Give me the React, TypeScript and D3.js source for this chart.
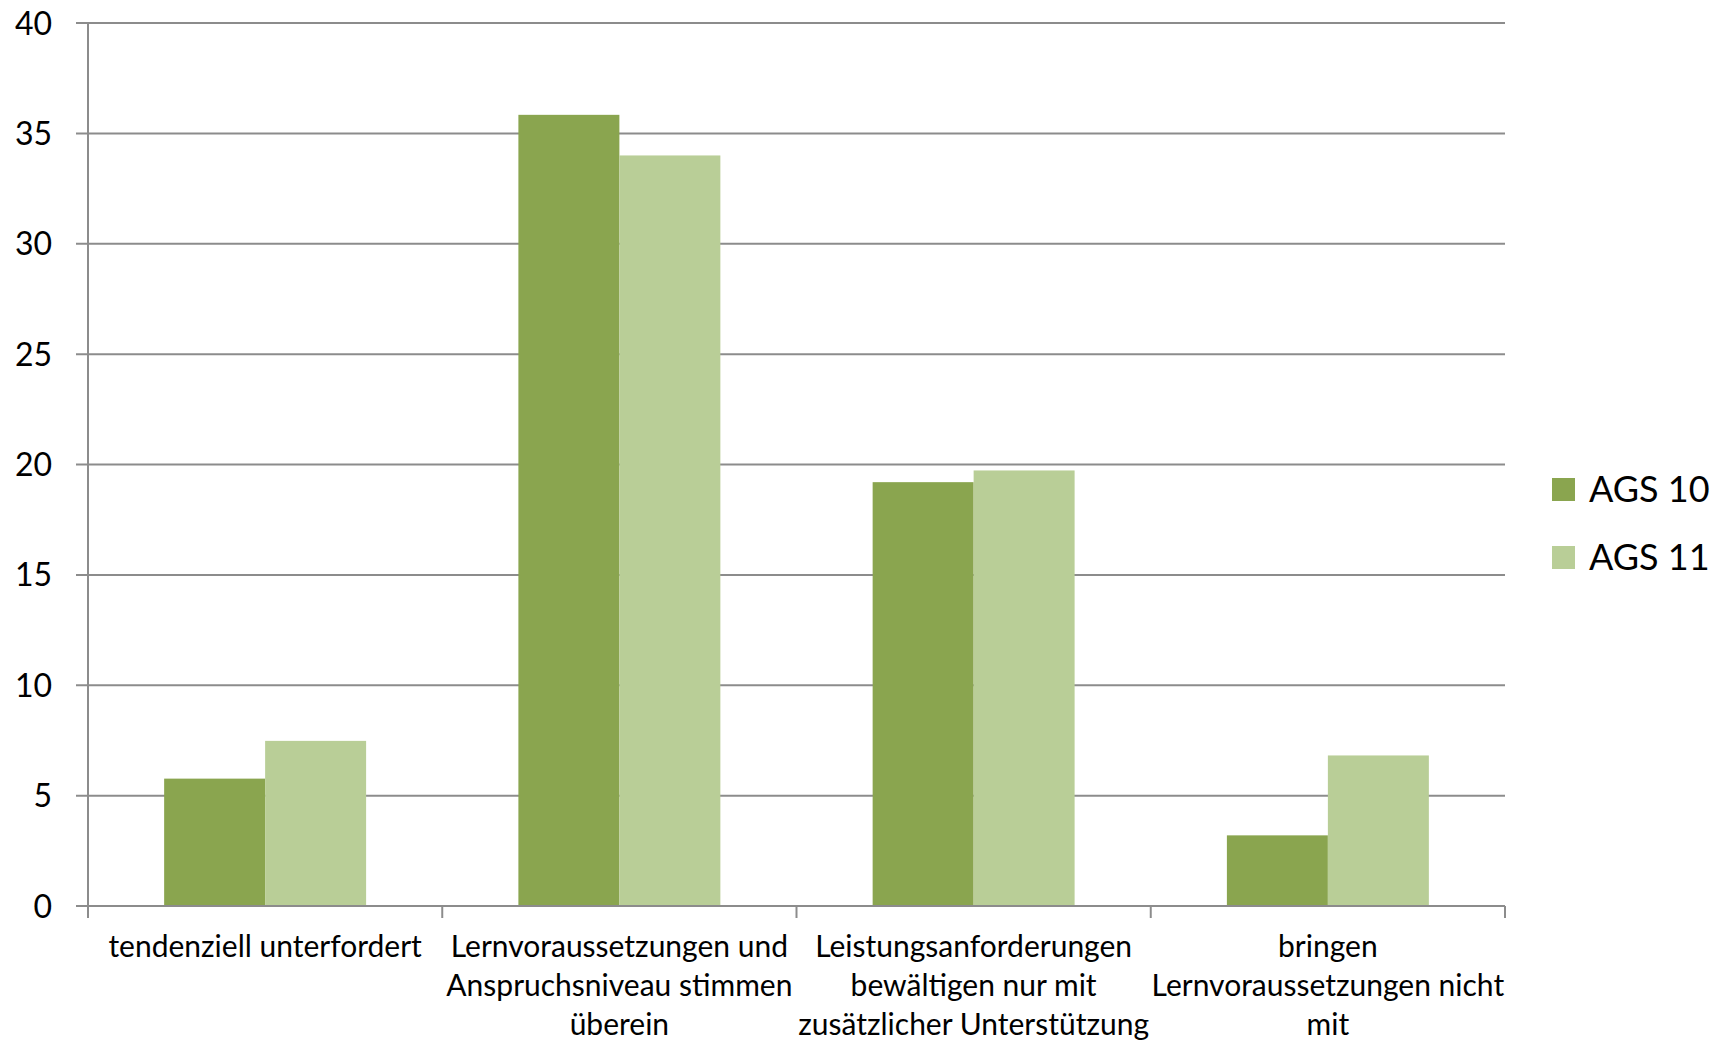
import React from "react";
import * as d3 from "d3";

const categories: string[][] = [
  ["tendenziell unterfordert"],
  ["Lernvoraussetzungen und", "Anspruchsniveau stimmen", "überein"],
  ["Leistungsanforderungen", "bewältigen nur mit", "zusätzlicher Unterstützung"],
  ["bringen", "Lernvoraussetzungen nicht", "mit"],
];
const seriesNames = ["AGS 10", "AGS 11"];
const ags10 = [5.77, 35.84, 19.2, 3.2];
const ags11 = [7.48, 34.0, 19.73, 6.82];
const yTicks = [0, 5, 10, 15, 20, 25, 30, 35, 40];
const colors = ["#8AA54F", "#B9CE97"];

const W = 1724;
const H = 1040;
const left = 88;
const right = 1505;
const top = 23;
const bottom = 906;
const font = "Lato, 'Open Sans', sans-serif";
const gridColor = "#8C8C8C";

export default function App() {
  const series = [ags10, ags11];
  const y = d3.scaleLinear().domain([0, 40]).range([bottom, top]);
  const idx = categories.map((_, i) => String(i));
  const x0 = d3.scaleBand<string>().domain(idx).range([left, right]).padding(0);
  const x1 = d3
    .scaleBand<string>()
    .domain(seriesNames)
    .range([0, x0.bandwidth()])
    .paddingInner(0)
    .paddingOuter(0.754);
  const boundaries = [...idx.map((k) => x0(k) as number), right];

  return (
    <svg
      width={W}
      height={H}
      style={{ position: "absolute", left: 0, top: 0, background: "#fff" }}
      fontFamily={font}
    >
      <rect x={0} y={0} width={W} height={H} fill="#fff" />
      {/* gridlines */}
      {yTicks.map((t) => (
        <line
          key={"g" + t}
          x1={left - 12}
          x2={right}
          y1={y(t)}
          y2={y(t)}
          stroke={gridColor}
          strokeWidth={2}
        />
      ))}
      {/* y tick labels */}
      {yTicks.map((t) => (
        <text
          key={"yl" + t}
          x={52}
          y={y(t)}
          dy="0.36em"
          textAnchor="end"
          fontSize={32}
          fill="#000"
        >
          {t}
        </text>
      ))}
      {/* bars */}
      {categories.map((_, i) =>
        series.map((s, j) => (
          <rect
            key={`b${i}-${j}`}
            x={(x0(String(i)) as number) + (x1(seriesNames[j]) as number)}
            y={y(s[i])}
            width={x1.bandwidth()}
            height={y(0) - y(s[i])}
            fill={colors[j]}
          />
        ))
      )}
      {/* axes */}
      <line x1={left} x2={left} y1={top} y2={bottom + 12} stroke={gridColor} strokeWidth={2} />
      <line x1={left - 12} x2={right} y1={bottom} y2={bottom} stroke={gridColor} strokeWidth={2} />
      {boundaries.map((b, i) => (
        <line key={"xt" + i} x1={b} x2={b} y1={bottom} y2={bottom + 12} stroke={gridColor} strokeWidth={2} />
      ))}
      {/* category labels */}
      {categories.map((lines, i) => {
        const cx = (x0(String(i)) as number) + x0.bandwidth() / 2;
        return (
          <text key={"c" + i} textAnchor="middle" fontSize={30} fill="#000">
            {lines.map((ln, k) => (
              <tspan key={k} x={cx} y={957 + k * 39}>
                {ln}
              </tspan>
            ))}
          </text>
        );
      })}
      {/* legend */}
      {seriesNames.map((n, j) => (
        <g key={"l" + j}>
          <rect x={1552} y={478 + j * 68} width={23} height={23} fill={colors[j]} />
          <text x={1589} y={502 + j * 68} fontSize={36} fill="#000">
            {n}
          </text>
        </g>
      ))}
    </svg>
  );
}
